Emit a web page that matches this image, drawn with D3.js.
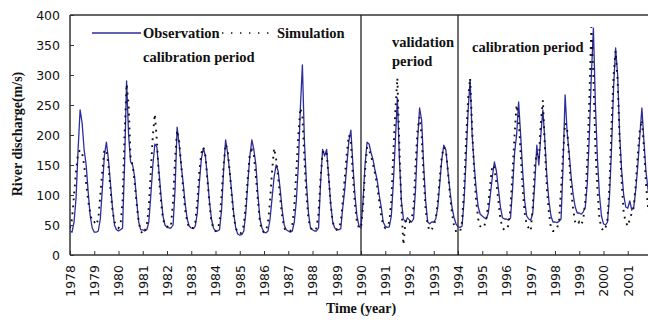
<!DOCTYPE html>
<html>
<head>
<meta charset="utf-8">
<script src="https://cdn.jsdelivr.net/npm/d3@7"></script>
<style>
  body { margin: 0; background: #fff; }
  svg { display: block; }
</style>
</head>
<body>
<svg id="chart" width="648" height="320"></svg>
<script>
// Monthly river discharge, Jan 1978 – Dec 2001 (12 values per year)
const yearLabels = ["1978","1979","1980","1981","1982","1983","1984","1985","1986","1987","1988","1989",
                    "1990","1991","1992","1993","1994","1995","1996","1997","1998","1999","2000","2001"];
const yTicks = [0, 50, 100, 150, 200, 250, 300, 350, 400];

const observation = [
  40, 38, 55, 95, 175, 242, 220, 175, 150, 105, 65, 45,   // 1978
  38, 38, 40, 60, 110, 165, 188, 160, 120, 80, 50, 42,    // 1979
  40, 42, 45, 150, 290, 200, 155, 150, 130, 90, 55, 42,   // 1980
  42, 40, 42, 55, 100, 150, 185, 180, 140, 100, 65, 50,   // 1981
  46, 45, 45, 50, 110, 213, 185, 150, 120, 85, 60, 48,    // 1982
  45, 44, 48, 70, 120, 160, 178, 165, 130, 90, 60, 45,    // 1983
  40, 40, 42, 75, 140, 192, 170, 140, 105, 70, 45, 35,    // 1984
  33, 34, 40, 70, 120, 165, 192, 175, 150, 100, 60, 45,   // 1985
  38, 37, 40, 60, 95, 130, 150, 140, 110, 75, 50, 42,     // 1986
  40, 38, 40, 55, 90, 150, 245, 317, 190, 120, 70, 45,    // 1987
  42, 40, 40, 45, 120, 176, 165, 176, 130, 85, 55, 45,    // 1988
  43, 42, 44, 80, 110, 150, 190, 208, 150, 100, 65, 48,   // 1989
  45, 90, 150, 188, 185, 170, 158, 140, 125, 100, 80, 55, // 1990
  48, 46, 47, 65, 120, 190, 262, 160, 90, 60, 55, 62,     // 1991
  58, 55, 60, 110, 190, 245, 225, 150, 90, 55, 52, 55,    // 1992
  55, 60, 80, 120, 160, 183, 175, 140, 108, 80, 63, 52,   // 1993
  47, 46, 48, 90, 160, 240, 292, 200, 150, 110, 80, 68,   // 1994
  65, 62, 60, 70, 100, 130, 155, 140, 110, 80, 62, 60,    // 1995
  60, 58, 62, 110, 170, 200, 255, 200, 140, 90, 65, 60,   // 1996
  58, 70, 120, 183, 150, 200, 242, 190, 130, 90, 65, 55,  // 1997
  55, 54, 56, 60, 150, 267, 205, 170, 130, 100, 80, 70,   // 1998
  70, 68, 72, 80, 120, 200, 300, 378, 250, 160, 100, 65,  // 1999
  52, 50, 55, 100, 180, 280, 345, 300, 200, 140, 100, 80, // 2000
  78, 90, 75, 80, 110, 150, 200, 245, 190, 140, 110, 90   // 2001
];

const simulation = [
  45, 60, 100, 140, 170, 175, 170, 150, 120, 90, 70, 55,  // 1978
  55, 50, 60, 100, 140, 175, 175, 150, 110, 75, 55, 50,   // 1979
  45, 50, 90, 200, 285, 250, 160, 150, 120, 85, 55, 40,   // 1980
  35, 40, 50, 80, 140, 200, 235, 190, 130, 90, 60, 50,    // 1981
  48, 45, 50, 90, 160, 208, 190, 150, 110, 75, 55, 45,    // 1982
  45, 45, 55, 90, 140, 170, 180, 165, 125, 85, 55, 45,    // 1983
  40, 42, 55, 100, 150, 185, 175, 140, 100, 65, 45, 38,   // 1984
  35, 38, 50, 85, 130, 170, 175, 165, 130, 90, 55, 40,    // 1985
  38, 40, 55, 90, 140, 178, 160, 130, 95, 65, 45, 40,     // 1986
  40, 40, 50, 80, 140, 200, 245, 230, 160, 100, 60, 45,   // 1987
  42, 40, 45, 70, 130, 170, 175, 170, 130, 85, 55, 45,    // 1988
  42, 45, 55, 90, 130, 170, 200, 190, 130, 85, 55, 45,    // 1989
  45, 80, 140, 180, 175, 165, 150, 135, 115, 90, 65, 50,  // 1990
  45, 48, 55, 90, 170, 240, 295, 180, 80, 17, 55, 60,     // 1991
  55, 58, 80, 150, 210, 230, 200, 130, 75, 50, 40, 42,    // 1992
  50, 60, 90, 130, 165, 180, 175, 140, 100, 70, 50, 40,   // 1993
  40, 38, 55, 110, 190, 260, 295, 210, 140, 90, 60, 48,   // 1994
  45, 48, 60, 85, 120, 150, 145, 120, 90, 60, 45, 42,     // 1995
  42, 50, 80, 140, 200, 250, 230, 170, 110, 70, 50, 45,   // 1996
  40, 80, 150, 170, 160, 220, 258, 180, 110, 70, 45, 40,  // 1997
  40, 45, 55, 110, 170, 220, 210, 160, 110, 75, 55, 50,   // 1998
  55, 50, 60, 90, 160, 260, 380, 300, 180, 110, 60, 45,   // 1999
  40, 45, 60, 120, 220, 300, 340, 290, 190, 120, 70, 55,  // 2000
  48, 60, 70, 80, 120, 170, 210, 225, 180, 120, 80, 60    // 2001
];

const periodBreaks = ["1990", "1994"];

const svg = d3.select("#chart");
const pLeft = 70, pTop = 15, pBottom = 255, pRight = 652;
const nMonths = yearLabels.length * 12;

const x = d3.scaleLinear().domain([0, nMonths]).range([pLeft, pRight]);
const y = d3.scaleLinear().domain([0, 400]).range([pBottom, pTop]);

const axisColor = "#333";

svg.append("defs").append("clipPath").attr("id", "clip")
  .append("rect").attr("x", pLeft).attr("y", pTop - 2).attr("width", 648 - pLeft).attr("height", pBottom - pTop + 4);

// Y axis
const yAxis = svg.append("g").attr("transform", `translate(${pLeft},0)`)
  .call(d3.axisLeft(y).tickValues(yTicks).tickSizeInner(-4).tickSizeOuter(0).tickPadding(10));
yAxis.select(".domain").remove();
yAxis.selectAll("line").attr("stroke", axisColor).attr("stroke-width", 1);
yAxis.selectAll("text").attr("font-family", "DejaVu Sans").attr("font-size", "12.5px").attr("fill", "#111");

// X axis
const xTickVals = yearLabels.map((d, i) => i * 12);
const xAxis = svg.append("g").attr("transform", `translate(0,${pBottom})`)
  .call(d3.axisBottom(x).tickValues(xTickVals).tickFormat((d, i) => yearLabels[i])
        .tickSizeInner(-4).tickSizeOuter(0));
xAxis.select(".domain").remove();
xAxis.selectAll("line").attr("stroke", axisColor).attr("stroke-width", 1);
xAxis.selectAll("text")
  .attr("font-family", "DejaVu Sans").attr("font-size", "12.5px").attr("fill", "#111")
  .attr("transform", "rotate(-90)")
  .attr("x", -10).attr("y", 0).attr("dy", "0.35em")
  .attr("text-anchor", "end");

// Frame
svg.append("line").attr("x1", pLeft).attr("x2", pLeft).attr("y1", pTop).attr("y2", pBottom)
  .attr("stroke", axisColor).attr("stroke-width", 1.5);
svg.append("line").attr("x1", pLeft).attr("x2", 648).attr("y1", pTop).attr("y2", pTop)
  .attr("stroke", axisColor).attr("stroke-width", 1.5);
svg.append("line").attr("x1", pLeft).attr("x2", 648).attr("y1", pBottom).attr("y2", pBottom)
  .attr("stroke", axisColor).attr("stroke-width", 1.5);

// Period separators
periodBreaks.forEach(yr => {
  const xi = x(yearLabels.indexOf(yr) * 12);
  svg.append("line").attr("x1", xi).attr("x2", xi).attr("y1", pTop).attr("y2", pBottom)
    .attr("stroke", "#222").attr("stroke-width", 1.3);
});

const line = d3.line().x((d, i) => x(i)).y(d => y(d));

const plot = svg.append("g").attr("clip-path", "url(#clip)");
plot.append("path").datum(observation)
  .attr("d", line).attr("fill", "none")
  .attr("stroke", "#2d2d9e").attr("stroke-width", 1.3).attr("stroke-linejoin", "round");
plot.append("path").datum(simulation)
  .attr("d", line).attr("fill", "none")
  .attr("stroke", "#111").attr("stroke-width", 1.9).attr("stroke-dasharray", "1.8 5.2");

// Legend
const serif = "Liberation Serif";
svg.append("line").attr("x1", 92).attr("x2", 141).attr("y1", 33).attr("y2", 33)
  .attr("stroke", "#2d2d9e").attr("stroke-width", 1.5);
svg.append("text").attr("x", 143).attr("y", 38).text("Observation")
  .attr("font-family", serif).attr("font-size", "14.5px").attr("font-weight", "bold").attr("fill", "#111");
svg.append("line").attr("x1", 222).attr("x2", 275).attr("y1", 33).attr("y2", 33)
  .attr("stroke", "#111").attr("stroke-width", 1.4).attr("stroke-dasharray", "1.4 7.6");
svg.append("text").attr("x", 277).attr("y", 38).text("Simulation")
  .attr("font-family", serif).attr("font-size", "14.5px").attr("font-weight", "bold").attr("fill", "#111");

// Period annotations
const notes = [
  { t: "calibration period", x: 143, y: 62 },
  { t: "validation", x: 392, y: 47 },
  { t: "period", x: 392, y: 66 },
  { t: "calibration period", x: 472, y: 52 }
];
notes.forEach(n => svg.append("text").attr("x", n.x).attr("y", n.y).text(n.t)
  .attr("font-family", serif).attr("font-size", "14.5px").attr("font-weight", "bold").attr("fill", "#111"));

// Axis titles
svg.append("text").attr("transform", "translate(22,134) rotate(-90)")
  .attr("text-anchor", "middle").text("River discharge(m/s)")
  .attr("font-family", serif).attr("font-size", "14px").attr("font-weight", "bold").attr("fill", "#111");
svg.append("text").attr("x", 361).attr("y", 313)
  .attr("text-anchor", "middle").text("Time (year)")
  .attr("font-family", serif).attr("font-size", "14px").attr("font-weight", "bold").attr("fill", "#111");
</script>
</body>
</html>
